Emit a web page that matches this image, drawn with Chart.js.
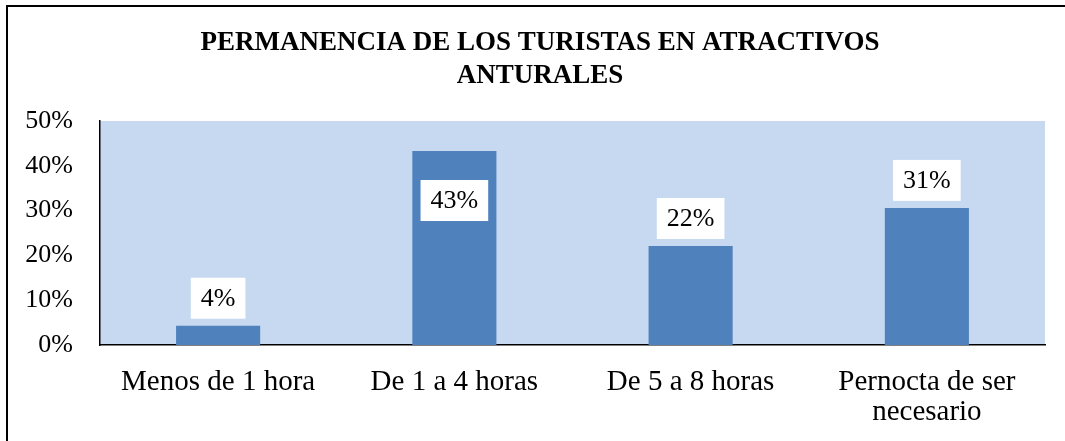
<!DOCTYPE html>
<html>
<head>
<meta charset="utf-8">
<script src="https://cdn.jsdelivr.net/npm/chart.js@4"></script>
<style>
  html, body { margin: 0; padding: 0; background: #fff; }
  #wrap { width: 1065px; height: 441px; }
</style>
</head>
<body>
<div id="wrap"><canvas id="chart" width="1065" height="441"></canvas></div>
<script>
const categories = ["Menos de 1 hora", "De 1 a 4 horas", "De 5 a 8 horas", ["Pernocta de ser", "necesario"]];
const values = [4.3, 43.3, 22.1, 30.6];
const yTicks = [0, 10, 20, 30, 40, 50];
const titleLines = ["PERMANENCIA DE LOS TURISTAS EN ATRACTIVOS", "ANTURALES"];

const serif = "'Liberation Serif', 'Times New Roman', serif";

// outer frame, plot background and title
const framePlugin = {
    id: "frame",
    beforeDraw(chart) {
        const ctx = chart.ctx;
        const a = chart.chartArea;
        ctx.save();
        ctx.fillStyle = "#C6D9F0";
        ctx.fillRect(a.left, a.top, a.right - a.left, a.bottom - a.top);
        ctx.strokeStyle = "#000";
        ctx.lineWidth = 2;
        ctx.beginPath();
        ctx.moveTo(7, chart.height + 2);
        ctx.lineTo(7, 6);
        ctx.lineTo(chart.width + 2, 6);
        ctx.stroke();
        ctx.fillStyle = "#000";
        ctx.font = "bold 27px " + serif;
        ctx.textAlign = "center";
        ctx.textBaseline = "middle";
        titleLines.forEach((t, i) => ctx.fillText(t, 540, 43 + i * 33));
        ctx.restore();
    }
};

// value labels in white boxes
const labelPlugin = {
    id: "valueLabels",
    afterDatasetsDraw(chart) {
        const ctx = chart.ctx;
        const meta = chart.getDatasetMeta(0);
        ctx.save();
        ctx.font = "26px " + serif;
        ctx.textAlign = "center";
        ctx.textBaseline = "middle";
        meta.data.forEach((bar, i) => {
            const txt = Math.round(values[i]) + "%";
            const w = ctx.measureText(txt).width + 20;
            const h = 41;
            let top = bar.y - 7 - h;
            if (top < chart.chartArea.top) top = bar.y + 29;
            ctx.fillStyle = "#fff";
            ctx.fillRect(bar.x - w / 2, top, w, h);
            ctx.fillStyle = "#000";
            ctx.fillText(txt, bar.x, top + h / 2 + 1);
        });
        ctx.restore();
    }
};

new Chart(document.getElementById("chart").getContext("2d"), {
    type: "bar",
    data: {
        labels: categories,
        datasets: [{
            data: values,
            backgroundColor: "#4F81BD",
            borderWidth: 0,
            categoryPercentage: 1,
            barPercentage: 0.356
        }]
    },
    options: {
        responsive: false,
        animation: false,
        layout: { padding: { top: 121, left: 0, right: 20, bottom: 0 } },
        plugins: { legend: { display: false }, tooltip: { enabled: false } },
        scales: {
            x: {
                grid: { display: false, drawTicks: false },
                border: { display: true, color: "#000", width: 1.5 },
                ticks: { color: "#000", font: { family: serif, size: 29, lineHeight: 1.05 }, padding: 22, maxRotation: 0 },
                afterFit(scale) { scale.height = 96; }
            },
            y: {
                min: 0,
                max: 50,
                afterBuildTicks(scale) { scale.ticks = yTicks.map(v => ({ value: v })); },
                grid: { display: false, drawTicks: false },
                border: { display: true, color: "#000", width: 1.5 },
                ticks: { color: "#000", font: { family: serif, size: 26 }, padding: 27, callback: v => v + "%" },
                afterFit(scale) { scale.width = 100; }
            }
        }
    },
    plugins: [framePlugin, labelPlugin]
});
</script>
</body>
</html>
